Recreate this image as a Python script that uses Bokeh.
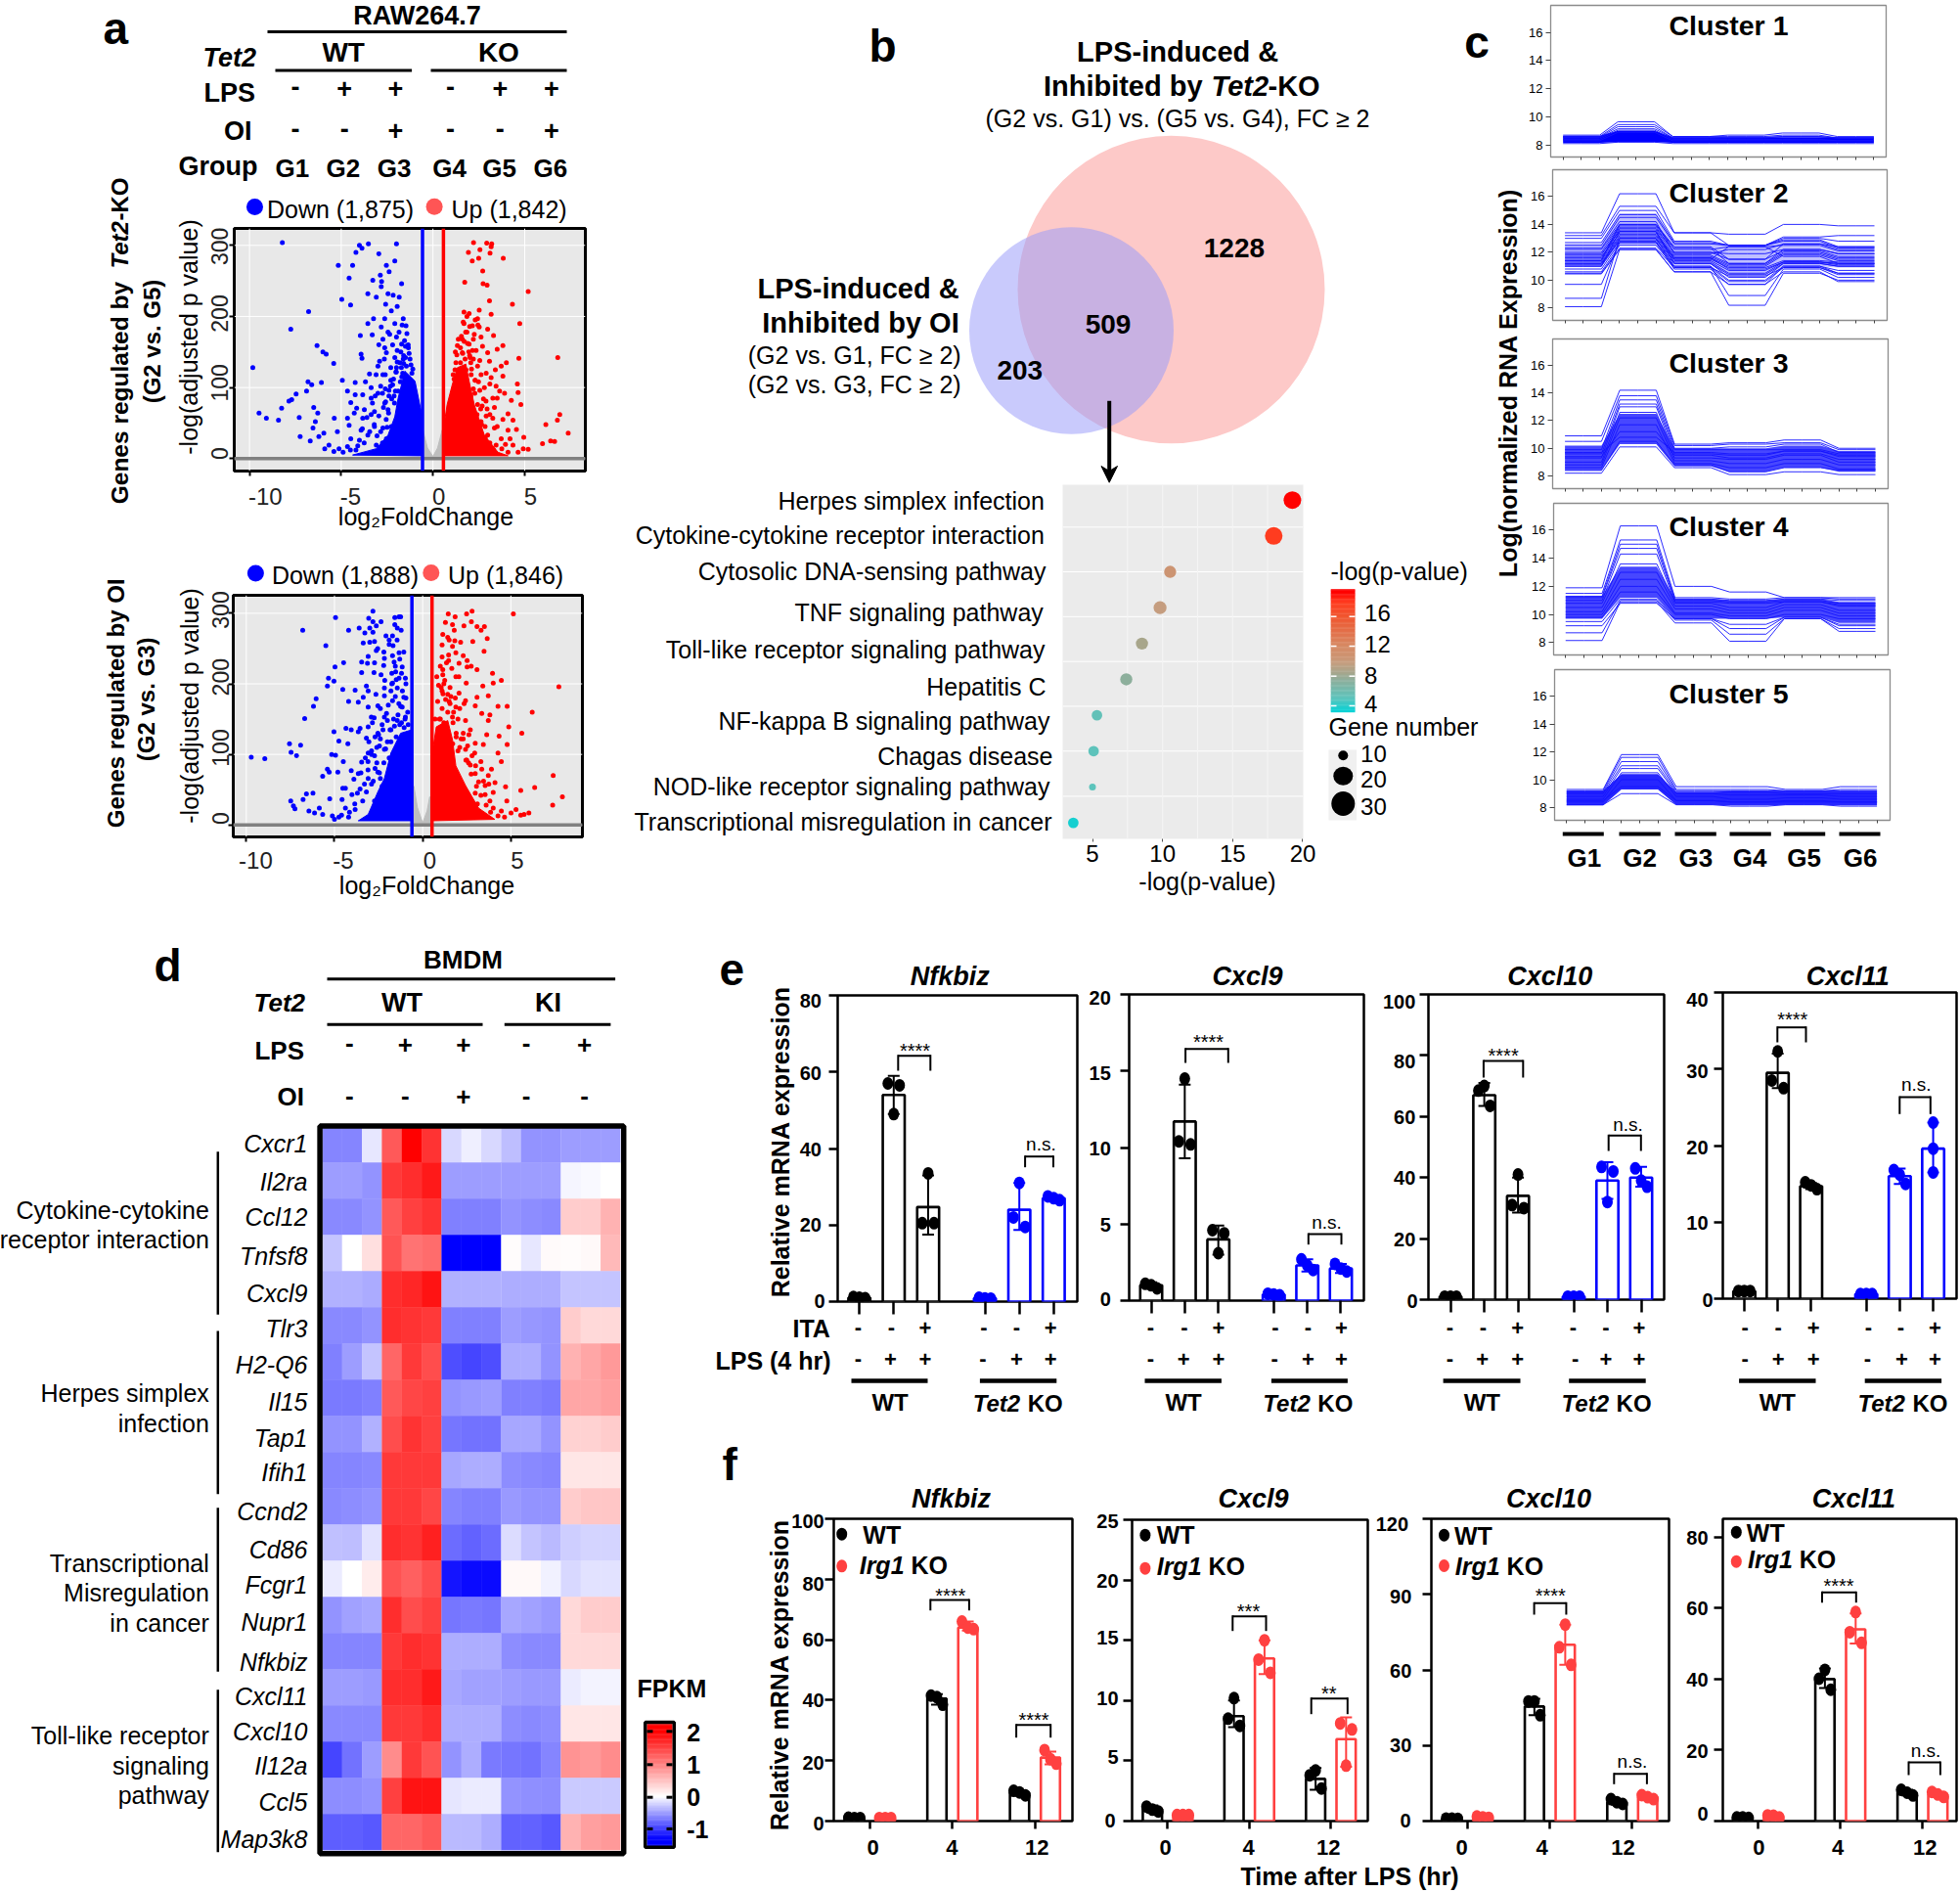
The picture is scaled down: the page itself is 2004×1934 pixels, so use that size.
import numpy as np
from bokeh.plotting import figure
from bokeh.models import Range1d, FixedTicker, Span, ColumnDataSource
from bokeh.core.properties import value
from bokeh.embed import file_html
from bokeh.resources import INLINE

FONT = "Liberation Sans"
BLUE = "#0000FF"; RED = "#FF0000"; LRED = "#FF4040"

# ---------- panel a data: (log2FC, -log10 padj)
v1_down_x = [-8.21,-4.01,-3.87,-3.52,-1.99,-4.2,-5.16,-4.38,-2.95,-4.57,-2.54,-2.08,-2.39,-2.87,-3.28,-2.8,-1.71,-3.55,-3.09,-2.82,-2.45,-2.17,-1.84,-4.97,-4.49,-2.58,-1.95,-2.27,-6.78,-7.75,-3.24,-3.55,-2.63,-2.82,-2.08,-1.62,-1.47,-3.96,-3.31,-2.73,-2.36,-1.99,-1.71,-1.34,-2.63,-6.32,-6.0,-5.82,-5.41,-3.87,-3.92,-2.91,-2.54,-2.08,-1.62,-9.82,-3.0,-2.73,-1.99,-4.94,-3.46,-6.81,-6.61,-6.08,-6.89,-7.46,-7.7,-7.85,-8.25,-9.48,-9.08,-8.42,-7.29,-6.5,-6.28,-6.41,-6.54,-5.38,-4.66,-4.24,-3.68,-3.37,-3.0,-4.24,-4.48,-3.83,-3.37,-2.63,-4.16,-3.74,-3.19,-2.45,-4.66,-4.57,-4.29,-3.83,-3.37,-3.92,-3.55,-3.19,-2.73,-2.27,-7.24,-6.69,-6.22,-5.95,-5.21,-4.48,-4.01,-5.67,-5.12,-4.66,-4.2,-3.09,-2.54,-2.3,-2.6,-2.0,-1.8,-2.2,-1.6,-2.4,-1.9,-2.1,-1.7,
 -2.85,-2.6,-2.4,-2.15,-1.95,-1.75,-1.55,-1.42,-1.3,-1.2,-1.65,-2.25,-2.7,-2.95,-3.2,-3.45,-2.55,-2.05,-1.85,-1.68,-2.2,-2.45,-2.65,-2.95,-3.1,-3.3,-3.6,-3.85,-3.05,-2.75,-3.75,-4.1,-1.5,-1.35,-1.1,-1.95,-2.3,-2.75,-3.15,-2.5,-2.85,-4.5,-4.9,-5.4,-5.9,-1.45,-1.6,-1.78,-2.02,-2.32,-2.58,-1.25,-1.15,-1.5,-1.72,-2.12,-2.42]
v1_down_y = [304,300,296,302,302,290,272,272,288,254,272,278,263,258,251,249,246,232,227,242,232,230,227,224,216,217,214,208,207,182,197,190,197,185,190,197,187,173,174,168,175,171,161,156,156,159,150,147,134,141,147,137,149,142,140,128,130,118,128,110,119,108,104,107,95,91,83,81,71,64,57,54,58,72,64,52,43,57,95,107,108,100,92,90,79,90,85,78,71,69,66,69,57,47,64,57,62,40,33,45,43,45,31,25,31,36,38,28,26,19,14,17,12,19,28,110,98,122,135,104,145,88,95,78,115,
 102,118,96,112,136,150,166,176,148,132,120,84,72,60,48,38,55,95,178,188,160,178,140,160,118,78,58,42,32,22,22,18,142,160,126,152,128,92,88,44,38,12,9,10,14,130,134,108,122,102,80,140,120,158,128,88,64]
v1_up_x = [2.21,2.93,3.2,3.17,2.56,1.93,3.11,3.83,2.49,2.14,2.71,1.73,2.73,2.95,5.19,3.08,4.33,2.52,1.69,3.17,1.97,2.43,4.73,1.69,2.15,2.52,2.98,3.3,2.25,2.62,1.6,1.33,1.97,3.81,3.5,2.98,2.15,1.6,4.68,6.8,3.08,4.0,3.72,2.43,2.06,3.17,3.81,2.62,4.6,3.44,4.64,2.8,3.26,3.63,4.27,4.79,2.89,4.09,6.91,3.81,3.26,4.36,6.78,6.15,3.35,4.09,4.55,7.37,4.95,2.84,5.97,6.41,6.63,5.19,4.92,4.36,3.72,2.98,3.44,4.09,4.64,2.62,2.06,2.43,1.5,1.8,2.0,2.3,1.45,1.7,2.2,2.6,2.9,1.2,1.4,
 1.15,1.3,1.5,1.7,1.85,2.0,2.2,2.35,2.55,1.4,2.1,2.3,2.55,2.75,2.95,3.1,3.35,3.5,2.4,2.65,2.85,3.1,3.3,3.75,3.95,4.2,1.55,1.75,1.95,1.25,1.1,2.45,2.7,2.9,3.1,3.4,2.2,1.65,1.85,2.3,3.9,3.5,1.62,1.88,2.08,2.28,2.48,2.68,1.38,1.22,1.78,2.02]
v1_up_y = [304,303,302,298,294,290,289,282,282,278,264,248,246,244,235,222,217,209,206,203,204,197,190,190,187,185,182,173,175,171,168,159,161,159,154,149,152,149,141,142,137,135,130,130,135,114,116,118,105,102,93,100,85,95,82,76,81,63,62,55,57,54,54,48,43,40,41,36,30,45,21,25,24,13,14,19,28,33,19,9,9,52,88,76,135,125,145,110,118,100,98,70,60,125,110,
 112,146,156,165,178,186,168,152,138,120,126,110,96,84,70,62,72,45,62,48,30,22,12,14,20,28,172,140,150,135,118,188,158,120,105,125,140,192,200,195,92,85,148,162,118,92,108,74,168,150,178,142]
v1_dense_down_x = [-0.57,-0.98,-1.53,-1.9,-2.08,-2.45,-3.09,-4.38,-0.57]
v1_dense_down_y = [57,109,123,85,59,33,14,5,4]
v1_dense_up_x = [0.55,0.77,1.05,1.33,1.79,1.97,2.25,2.8,3.54,4.09,0.55]
v1_dense_up_y = [38,76,104,128,133,109,76,33,9,4,4]
v1_funnel_x = [-0.55,-0.3,0,0.25,0.5,0.5,-0.55]
v1_funnel_y = [40,15,3,15,40,2,2]

v2_down_x = [-2.82,-4.94,-3.06,-2.82,-2.36,-1.58,-1.34,-1.25,-6.8,-4.2,-3.6,-3.0,-2.63,-1.58,-1.44,-1.22,-3.28,-2.82,-2.08,-1.71,-5.49,-3.37,-3.0,-2.73,-1.9,-1.68,-2.63,-3.09,-2.17,-1.71,-1.34,-1.07,-4.48,-4.97,-3.46,-3.13,-2.73,-2.21,-1.62,-1.16,-3.46,-2.76,-2.36,-1.53,-5.34,-5.03,-5.4,-4.53,-3.83,-3.19,-3.09,-2.17,-1.71,-1.34,-0.98,-1.8,-1.44,-6.04,-4.2,-3.65,-6.19,-3.37,-3.09,-2.54,-2.17,-1.71,-1.07,-1.16,-6.69,-2.91,-2.17,-1.44,-0.98,-3.55,-5.03,-4.35,-4.05,-3.65,-3.09,-2.54,-1.8,-4.75,-3.19,-4.24,-7.55,-6.92,-7.46,-7.15,-9.72,-8.95,-5.16,-4.94,-3.46,-3.09,-2.73,-2.17,-5.4,-5.67,-5.3,-4.81,-4.05,-3.65,-3.09,-2.54,-6.22,-6.59,-6.78,-7.48,-7.33,-7.24,-5.27,-4.53,-4.38,-3.55,-4.01,-3.19,-4.57,-6.45,-6.13,-5.86,-5.67,-5.12,-4.38,-3.83,-2.73,-4.75,-4.2,-2.4,-2.0,-2.6,-1.5,-2.9,-1.9,-2.2,-1.3,-3.1,-2.4,-2.7,-1.7,-2.1,-2.9,-2.3,
 -2.9,-2.7,-2.45,-2.25,-2.0,-1.8,-1.6,-1.4,-1.2,-1.05,-0.85,-0.95,-1.15,-1.35,-1.55,-1.75,-1.95,-2.15,-2.4,-2.65,-2.85,-3.05,-3.25,-3.5,-3.3,-3.1,-2.8,-2.6,-3.4,-3.7,-3.85,-4.15,-4.6,-5.0,-3.9,-2.45,-1.75,-1.55,-1.3,-2.2,-2.55,-1.9,-1.45,-0.95,-1.2,-4.5,-1.65,-1.85,-2.05,-2.3,-1.25,-1.0,-0.82,-1.5,-2.5,-2.75]
v2_down_y = [303,294,293,288,288,294,295,295,276,276,279,279,282,284,279,276,272,273,268,268,254,258,259,260,256,254,247,239,236,240,244,245,230,224,231,229,230,226,231,224,216,216,213,217,208,204,197,192,191,197,190,194,201,208,208,190,194,179,175,174,168,181,167,169,183,176,181,167,151,153,153,148,153,137,132,137,135,132,139,130,135,119,123,115,115,113,103,98,96,94,100,99,89,102,98,107,79,69,75,75,77,73,66,75,45,44,36,34,27,23,37,52,52,51,43,47,36,20,17,24,15,13,24,22,34,11,11,122,118,110,125,105,95,88,142,90,66,80,100,108,58,55,
 100,125,112,135,148,118,140,156,145,138,160,180,190,172,182,200,170,205,165,185,145,118,95,74,58,78,62,88,34,45,30,18,14,8,65,74,215,225,235,245,250,262,262,200,215,90,150,135,158,142,168,150,142,206,128,152]
v2_up_x = [2.8,1.45,2.49,5.14,2.76,1.29,1.84,1.69,2.34,3.08,3.5,3.31,1.79,1.14,1.42,1.82,2.84,3.66,1.69,2.15,1.47,1.88,3.48,1.1,1.47,2.52,2.06,1.14,2.52,3.08,1.14,1.88,3.96,4.46,4.0,2.47,7.72,3.41,3.08,3.72,1.42,2.06,2.43,2.98,4.27,4.79,6.21,3.35,3.81,1.88,1.69,2.43,3.72,4.88,5.62,4.33,3.63,2.62,3.44,4.79,2.98,2.43,4.27,4.46,3.35,3.9,3.72,7.4,2.98,3.17,3.54,4.7,6.35,5.56,4.0,3.54,2.98,7.92,4.77,7.37,2.62,3.81,4.0,4.46,5.01,5.29,5.56,6.02,4.27,3.35,2.8,2.25,4.64,5.75,1.2,1.5,1.9,2.3,2.1,1.0,1.3,2.7,1.7,2.5,1.1,2.0,
 0.95,1.1,1.3,1.55,1.75,2.0,2.3,2.55,2.8,3.0,1.9,2.1,2.45,2.75,3.05,3.3,3.6,3.85,1.05,1.25,1.55,1.85,0.85,1.0,1.35,1.65,2.05,2.35,2.7,3.3,4.1,3.75,3.45,3.1,2.6,1.2,0.7,0.8,1.1,1.5,2.3,2.75,1.42,1.72,2.18,0.9,1.15,1.6,2.6,2.95]
v2_up_y = [303,299,299,299,288,287,295,284,282,281,281,276,276,270,266,261,260,264,253,259,241,244,246,238,233,233,229,220,224,220,213,210,215,205,201,201,196,197,181,183,185,187,176,169,168,168,160,158,156,167,153,148,148,139,130,126,128,128,114,114,116,107,102,90,79,79,70,70,73,61,56,54,53,49,46,43,45,40,34,28,38,34,24,20,17,22,14,17,13,15,24,47,11,15,200,175,130,122,165,150,142,85,115,92,190,105,
 150,165,178,172,160,150,130,112,98,84,125,110,92,72,55,42,28,18,195,205,195,180,175,225,230,222,210,172,135,90,60,58,62,30,30,145,150,210,255,262,240,225,160,145,122,198,186,182,88,102]
v2_dense_down_x = [-0.61,-1.25,-1.8,-2.17,-2.54,-3.09,-3.65,-0.61]
v2_dense_down_y = [135,130,102,66,47,15,6,6]
v2_dense_up_x = [0.53,0.77,1.42,1.69,1.88,2.43,3.17,4.09,0.53]
v2_dense_up_y = [100,139,148,121,84,56,24,8,6]
v2_funnel_x = [-0.5,-0.3,0,0.25,0.4,0.4,-0.5]
v2_funnel_y = [55,25,3,20,40,2,2]

# ---------- panel b bubble data
pathways = ["Herpes simplex infection","Cytokine-cytokine receptor interaction","Cytosolic DNA-sensing pathway","TNF signaling pathway","Toll-like receptor signaling pathway","Hepatitis C","NF-kappa B signaling pathway","Chagas disease","NOD-like receptor signaling pathway","Transcriptional misregulation in cancer"]
path_logp = [19.26,17.93,10.54,9.82,8.53,7.41,5.32,5.08,5.0,3.63]
path_genes = [20,20,13,14,13,13,11,11,7,11]

# ---------- panel c: six group levels per gene line
c_groups = ["G1","G2","G3","G4","G5","G6"]
c1_lines = [[8.7,9.65,8.6,8.7,8.85,8.6],[8.6,9.45,8.6,8.6,8.7,8.5],[8.55,9.3,8.5,8.55,8.6,8.5],[8.5,9.15,8.5,8.5,8.6,8.5],[8.4,9.05,8.4,8.4,8.4,8.3],[8.3,8.9,8.3,8.3,8.3,8.3],[8.1,8.2,8.1,8.1,8.1,8.1]]
c1_upper = [8.65,9.0,8.55,8.55,8.55,8.55]
c1_lower = [8.15,8.2,8.15,8.15,8.15,8.15]
c2_lines = [[8.1,12.2,10.6,8.2,10.5,10],[8.7,13,11,8.9,10.8,10.2],[9.7,12.7,10.8,9.7,11,10.5],[13.4,16.2,13.4,13.3,14.0,13.9],[13.2,15.3,13.4,12.5,13.1,13.2],[13,15,12.8,12.5,13,12.8],[12.7,14.7,12.7,12.5,12.9,12.4],[12.5,14.5,12.6,12.5,12.8,12.3],[12.2,14,12.4,11.5,12.6,12.2],[12,13.9,12.2,12.4,12.5,12.1],[11.8,13.8,12,11.9,12.2,11.9],[11.6,13.7,12,11.5,12.1,11.7],[11.5,13.6,11.8,11.2,12,11.6],[11.4,13.4,11.7,11.1,11.9,11.5],[11.3,13.2,11.6,11,11.8,11.4],[11.2,13.1,11.5,10.9,11.4,11.3],[11.1,13,11.4,10.7,11.3,11.2],[11.0,12.9,11.3,10.5,11.3,11.1],[10.8,12.7,11.2,10.2,11.2,11],[10.6,12.5,11,10,11,10.7],[10.5,12.3,10.9,9.9,10.9,10.5],[10.45,12.2,10.6,9.7,10.6,9.9],[11.9,13.5,11.5,12.4,11.7,11.2],[11.4,14,12.3,11.2,12.2,11.9],[11.7,13.3,11.6,10.8,11.3,11.2],[12.3,14.2,11.9,12.2,12.6,12.4],[11,13.5,11.2,10.4,11.2,11],[11.2,12.8,10.9,10.3,10.9,10.4]]
c2_upper = [12.6,14.8,12.7,12.5,12.9,12.4]
c2_lower = [11.0,12.5,11.1,10.3,11.0,10.9]
c3_lines = [[10.9,14.2,10.3,10.4,10.6,10.0],[10.5,13.8,10.2,10.3,10.4,9.9],[8.2,10.1,8.6,8.1,8.3,8.1],[9.9,13.5,10,10.1,10.3,9.7],[9.6,13.2,9.9,9.9,9.9,9.6],[9.3,13,9.6,9.5,9.8,9.5],[9,12.6,9.3,9.2,9.5,9],[8.8,12.2,9.1,8.9,9.2,8.8],[8.6,11.7,8.9,8.6,8.9,8.5],[9.4,11.2,9.5,9.3,9.6,9.2],[9.7,10.8,9.7,9.6,9.8,9.4],[8.4,10.5,8.8,8.3,8.6,8.4]]
c3_upper = [10.2,12.5,10,10,10.2,9.8]
c3_lower = [8.4,10.3,8.7,8.3,8.6,8.3]
c4_lines = [[8.15,10.9,9.4,8.1,9.7,8.8],[8.7,11,9.6,8.6,9.7,9],[9.2,10.8,9.7,9,9.8,9.2],[9.5,11.1,9.7,9.3,9.8,9.3],[11.9,16.3,12,11.6,11.2,11.2],[11.5,15.3,11.2,11.1,11.2,11.1],[11.3,15,11.1,11,11.1,11],[11.2,14.7,11,10.9,11,10.8],[11,14.3,10.9,10.8,10.9,10.7],[10.8,13.6,10.8,10.5,10.9,10.6],[10.5,13,10.6,10.3,10.7,10.3],[10.2,12.5,10.4,10.1,10.5,10.1],[10,12,10.1,9.9,10.3,9.9],[9.8,11.6,10,9.7,10,9.7]]
c4_upper = [11.3,13.4,11.1,11,11.1,10.9]
c4_lower = [9.7,11.2,9.7,9.7,9.8,9.4]
c5_lines = [[9.3,11.8,9.5,9.5,9.3,9.5],[9.2,11.6,9.3,9.3,9.2,9.3],[9.1,11.3,9.2,9.2,9.2,9.2],[9,11,9.1,9.1,9,9],[8.8,10.8,9,8.9,8.9,8.8],[8.6,10.5,8.8,8.6,8.7,8.6],[8.4,10,8.5,8.4,8.4,8.4],[8.2,9,8.2,8.1,8.2,8.1],[8.5,9.5,8.5,8.4,8.5,8.4]]
c5_upper = [9.2,10.4,9.1,9.2,9.2,9.2]
c5_lower = [8.15,9.3,8.2,8.15,8.2,8.15]

# ---------- panel d heat map
heat_genes = ["Cxcr1","Il2ra","Ccl12","Tnfsf8","Cxcl9","Tlr3","H2-Q6","Il15","Tap1","Ifih1","Ccnd2","Cd86","Fcgr1","Nupr1","Nfkbiz","Cxcl11","Cxcl10","Il12a","Ccl5","Map3k8"]
heat_values = [
[-.62,-.62,-.12,1.3,2.0,1.6,-.2,-.08,-.2,-.33,-.55,-.55,-.5,-.5,-.5],
[-.5,-.5,-.55,1.55,1.65,1.8,-.5,-.5,-.5,-.5,-.5,-.5,-.05,-.03,0],
[-.6,-.6,-.55,1.3,1.5,1.6,-.65,-.65,-.65,-.55,-.58,-.6,.4,.4,.6],
[-.3,0,.25,1.35,1.1,1.15,-1.3,-1.3,-1.3,.02,-.12,.04,.02,.05,.55],
[-.4,-.4,-.43,1.65,1.7,1.85,-.4,-.4,-.4,-.42,-.42,-.42,-.3,-.3,-.3],
[-.6,-.6,-.55,1.65,1.6,1.55,-.65,-.65,-.65,-.5,-.53,-.55,.4,.3,.3],
[-.65,-.5,-.3,1.2,1.55,1.4,-.9,-.95,-.9,-.42,-.42,-.55,.6,.7,.8],
[-.68,-.68,-.65,1.3,1.45,1.5,-.55,-.52,-.5,-.65,-.65,-.68,.7,.7,.75],
[-.55,-.55,-.4,1.4,1.6,1.5,-.7,-.72,-.72,-.45,-.45,-.55,.35,.35,.4],
[-.62,-.62,-.6,1.55,1.55,1.55,-.45,-.42,-.42,-.58,-.6,-.62,.2,.2,.2],
[-.6,-.58,-.55,1.55,1.55,1.45,-.62,-.65,-.65,-.52,-.55,-.55,.4,.45,.45],
[-.32,-.33,-.15,1.65,1.6,1.75,-.75,-.8,-.75,-.18,-.3,-.35,-.25,-.22,-.22],
[-.1,0,.15,1.35,1.25,1.4,-1.2,-1.25,-1.25,.05,.05,-.07,-.2,-.15,-.15],
[-.55,-.48,-.45,1.65,1.4,1.5,-.7,-.68,-.7,-.45,-.48,-.52,.3,.4,.4],
[-.62,-.62,-.62,1.55,1.65,1.6,-.42,-.42,-.42,-.58,-.6,-.6,.3,.3,.3],
[-.5,-.5,-.52,1.65,1.65,1.8,-.45,-.48,-.48,-.5,-.52,-.52,-.1,-.06,-.06],
[-.6,-.6,-.6,1.55,1.55,1.65,-.42,-.42,-.42,-.58,-.6,-.58,.2,.2,.2],
[-.95,-.72,-.5,.9,1.55,1.35,-.55,-.42,-.68,-.7,-.72,-.62,.85,.8,.9],
[-.58,-.58,-.55,1.5,1.85,1.85,-.13,-.1,-.1,-.55,-.57,-.58,-.27,-.27,-.27],
[-.82,-.82,-.85,1.2,1.2,1.3,-.35,-.35,-.42,-.8,-.8,-.85,.6,.75,.8]]

# ---------- panel e bars (three replicates: left, centre, right)
e_nfkbiz_mean = [1,54,24.7,0.9,24,27]
e_nfkbiz_err = [[.7,1.3],[49,59],[17.5,33],[.6,1.1],[18.7,31],[26.4,27.6]]
e_nfkbiz_pts = [[1.2,1.0,0.9],[57,49,56.5],[20.5,33.5,20.5],[1.0,0.8,0.8],[22,31,19.5],[27.5,27,26.5]]
e_cxcl9_mean = [1,11.7,4,.4,2.3,2.1]
e_cxcl9_err = [[.8,1.2],[9.3,14.1],[3,4.9],[.3,.5],[1.9,2.7],[1.8,2.4]]
e_cxcl9_pts = [[1.1,1,.8],[10.4,14.5,10.2],[4.6,3.1,4.4],[.45,.4,.35],[2.7,2.3,2],[2.4,2.1,1.9]]
e_cxcl10_mean = [1,67,34,1,39,40]
e_cxcl10_err = [[.7,1.3],[63.5,71],[28.5,40],[.7,1.3],[33,45],[37,43.5]]
e_cxcl10_pts = [[1,1,1],[68.5,70,63.5],[31,41,30],[1,1,1],[43.5,32,42],[43,39,37]]
e_cxcl11_mean = [1,29.5,14.7,.6,16,19.6]
e_cxcl11_err = [[.8,1.2],[27.5,32],[14.3,15.1],[.5,.7],[15,17],[16.5,23]]
e_cxcl11_pts = [[1,1,1],[28.5,32.3,27.5],[15.2,14.8,14.3],[.6,.6,.6],[16.8,16.2,15],[23,19.6,16.5]]
# ---------- panel f bars: WT 0, KO 0, WT 4, KO 4, WT 12, KO 12
f_nfkbiz_mean = [1,1,40.5,64,9.5,21]
f_nfkbiz_err = [[.8,1.2],[.8,1.2],[38.5,42],[63,66],[8.6,10.2],[18.8,23]]
f_nfkbiz_pts = [[1.1,1,1],[1,1,1],[41.5,41,38.5],[66,64,63.5],[10,9.5,8.5],[23.5,20.5,19]]
f_cxcl9_mean = [1,.5,8.7,13.5,3.5,6.8]
f_cxcl9_err = [[.7,1.3],[.4,.6],[7.8,10],[12.2,15],[2.6,4.4],[4.5,8.6]]
f_cxcl9_pts = [[1.2,.95,.8],[.5,.5,.5],[8.5,10.2,7.9],[13.4,15,12.3],[3.8,4.2,2.7],[8.1,4.6,7.6]]
f_cxcl10_mean = [1,1.5,45.5,70,7.5,9.5]
f_cxcl10_err = [[.7,1.3],[1.1,1.9],[42,48.5],[62,78],[6.5,8.7],[8.5,10.5]]
f_cxcl10_pts = [[1,1,.9],[1.8,1.5,1.3],[47.5,47.5,42],[69,78,62],[8.7,7.5,6.8],[10.3,9.5,8.7]]
f_cxcl11_mean = [1,1.5,40,54,8,7.5]
f_cxcl11_err = [[.7,1.3],[1,2],[37.5,43],[50,58.5],[7.2,8.8],[6.8,8.2]]
f_cxcl11_pts = [[1,1,.9],[1.6,1.5,1],[40.1,42.6,37],[53.2,58.9,50.2],[8.8,8,7.2],[8.2,7.5,6.8]]
E_SLOTS = [0,1,2,3.65,4.65,5.65]
F_SLOTS = [-.187,.187,.813,1.187,1.813,2.187]
ita_signs = ["-","-","+","-","-","+"]
lps_signs = ["-","+","+","-","+","+"]


# ---------- helpers
def rng(a, pa, va, pb, vb):
    return va + (a - pa) * (vb - va) / (pb - pa)


def panel(x0, y0, x1, y1, xr, yr, L=40, T=6, R=6, B=30, bg=None, outline="black", ow=2.5, **kw):
    x0, y0, x1, y1 = round(x0), round(y0), round(x1), round(y1)
    p = figure(width=x1 - x0 + L + R, height=y1 - y0 + T + B, x_range=Range1d(*xr), y_range=Range1d(*yr),
               output_backend="svg", toolbar_location=None, min_border_left=L, min_border_right=R,
               min_border_top=T, min_border_bottom=B, border_fill_color=None, background_fill_color=bg,
               outline_line_color=outline, outline_line_width=ow,
               styles={"position": "absolute", "left": f"{x0 - L}px", "top": f"{y0 - T}px"}, **kw)
    p.grid.visible = False
    return p


def ticks(ax, vals, out, w=2, color="black", labels=False, fs="1px"):
    ax.ticker = FixedTicker(ticks=list(vals))
    ax.major_tick_out = out
    ax.major_tick_in = 0
    ax.minor_tick_line_color = None
    ax.major_tick_line_width = w
    ax.major_tick_line_color = color
    ax.axis_line_color = None
    ax.major_label_text_font = FONT
    ax.major_label_text_font_size = fs
    if not labels:
        ax.major_label_overrides = {v: "" for v in vals}
        ax.major_label_standoff = 0


figs = []

# ---------- volcano panels
def volcano(rect, xcal, ycal, vb, vr, dx, dy, ux, uy, ddx, ddy, dux, duy, fx, fy):
    x0, y0, x1, y1 = rect
    xr = (rng(x0, *xcal), rng(x1, *xcal)); yr = (rng(y1, *ycal), rng(y0, *ycal))
    p = panel(x0, y0, x1, y1, xr, yr, L=14, T=4, R=4, B=14, bg="#E8E8E8", ow=3)
    ticks(p.xaxis[0], [-10, -5, 0, 5], 5, 2)
    ticks(p.yaxis[0], [0, 100, 200, 300], 5, 2)
    for v in [-10, -5, 0, 5]:
        p.add_layout(Span(location=v, dimension="height", line_color="white", line_width=1, level="underlay"))
    for v in [0, 100, 200, 300]:
        p.add_layout(Span(location=v, dimension="width", line_color="white", line_width=1, level="underlay"))
    p.patch(fx, fy, color="#BEBEBE")
    p.patch(ddx, ddy, color=BLUE)
    p.patch(dux, duy, color=RED)
    p.scatter(dx, dy, size=5, color=BLUE, line_color=None)
    p.scatter(ux, uy, size=5, color=RED, line_color=None)
    p.add_layout(Span(location=0, dimension="width", line_color="#808080", line_width=3.5))
    p.add_layout(Span(location=vb, dimension="height", line_color=BLUE, line_width=3.5))
    p.add_layout(Span(location=vr, dimension="height", line_color=RED, line_width=3.5))
    figs.append(p)

volcano((239, 233, 598, 481), (254.6, -10, 536, 5), (468.3, 0, 250.3, 300), -0.57, 0.57,
        v1_down_x, v1_down_y, v1_up_x, v1_up_y, v1_dense_down_x, v1_dense_down_y, v1_dense_up_x, v1_dense_up_y, v1_funnel_x, v1_funnel_y)
volcano((238.3, 608, 595, 855.2), (251.6, -10, 521.9, 5), (843, 0, 626.4, 300), -0.61, 0.53,
        v2_down_x, v2_down_y, v2_up_x, v2_up_y, v2_dense_down_x, v2_dense_down_y, v2_dense_up_x, v2_dense_up_y, v2_funnel_x, v2_funnel_y)

# ---------- bubble panel
def lerp_palette(vals, stops):
    xs = [s[0] for s in stops]
    rgb = np.array([[int(s[1][i:i + 2], 16) for i in (1, 3, 5)] for s in stops], float)
    out = np.stack([np.interp(vals, xs, rgb[:, k]) for k in range(3)], 1).round().astype(int)
    return ["#%02X%02X%02X" % tuple(c) for c in out]

P_STOPS = [(3.2, "#00D2D6"), (5, "#5CC4BC"), (7.5, "#8FAE9B"), (8.6, "#AAA58A"), (9.8, "#C59D7F"), (10.5, "#CC9472"), (12, "#D68A64"), (16, "#F0562F"), (17.9, "#FF3D20"), (19.3, "#FF0000"), (19.7, "#FF0000")]
bx = (1116.8, 5, 1331, 20); by = (510.7, 0, 840.3, 9)
p = panel(1086.4, 495, 1331.5, 856.7, (rng(1086.4, *bx), rng(1331.5, *bx)), (rng(856.7, *by), rng(495, *by)),
          L=6, T=4, R=34, B=38, bg="#EBEBEB", outline=None, y_axis_location=None)
ticks(p.xaxis[0], [5, 10, 15, 20], 3, 1, "#555555", labels=True, fs="24px")
p.xaxis[0].major_label_text_color = "black"
p.xaxis[0].major_label_standoff = 3
for v in [0.754, 2.0, 3.25, 4.5, 5.75, 7.0, 8.26]:
    p.add_layout(Span(location=v, dimension="width", line_color="white", line_width=1, level="underlay"))
for v in [7.5, 10, 12.5, 15, 17.5]:
    p.add_layout(Span(location=v, dimension="height", line_color="#F5F5F5", line_width=1, level="underlay"))
p.scatter(x=path_logp, y=list(range(10)), size=np.interp(path_genes, [7, 10, 20, 30], [7, 10, 18, 25]).tolist(),
          color=[lerp_palette([v], P_STOPS)[0] for v in path_logp], line_color=None)
figs.append(p)

# ---------- cluster panels
def cluster(rect, xp0, xp17, y16, y8, lines, upper=None, lower=None, band_alpha=0.72):
    x0, y0, x1, y1 = rect
    xc = (xp0, 0, xp17, 17); yc = (y16, 16, y8, 8)
    p = panel(x0, y0, x1, y1, (rng(x0, *xc), rng(x1, *xc)), (rng(y1, *yc), rng(y0, *yc)), L=44, T=3, R=3, B=9,
              outline="#8C8C8C", ow=1.3)
    ticks(p.xaxis[0], list(range(18)), 3, 1, "#444444")
    ticks(p.yaxis[0], [8, 10, 12, 14, 16], 5, 1, "#444444", labels=True, fs="13px")
    p.yaxis[0].major_label_standoff = 3
    p.yaxis[0].major_label_text_color = "black"
    xs = list(range(18))
    if upper is not None:
        p.varea(xs, np.repeat(lower, 3).tolist(), np.repeat(upper, 3).tolist(), fill_color=BLUE, fill_alpha=band_alpha)
    for row in lines:
        p.line(xs, np.repeat(row, 3).tolist(), line_color="#1414FF", line_width=0.9, line_alpha=1.0)
    figs.append(p)

cluster((1585, 5, 1928.3, 160), 1597.7, 1915.7, 32.7, 147.7, c1_lines, c1_upper, c1_lower, 1.0)
cluster((1586.7, 173.3, 1929, 327.3), 1599.3, 1916, 200.7, 314.7, c2_lines, c2_upper, c2_lower, 0.25)
cluster((1586.7, 345.7, 1930, 499), 1599.3, 1917, 372.7, 486, c3_lines, c3_upper, c3_lower)
cluster((1587.7, 514.3, 1930.3, 669.3), 1600, 1917.3, 541.7, 656.7, c4_lines, c4_upper, c4_lower)
cluster((1588.7, 684.3, 1931.7, 838.3), 1601, 1918.3, 711.3, 825.3, c5_lines, c5_upper, c5_lower, 0.85)

# ---------- heat map
def heat_color(v):
    if v < 0:
        s = min(-v / 1.3, 1); c = int(round(255 * (1 - s))); return "#%02X%02XFF" % (c, c)
    s = min(v / 2, 1); c = int(round(255 * (1 - s))); return "#FF%02X%02X" % (c, c)

p = panel(329, 1151, 634, 1891, (-.5, 14.5), (19.5, -.5), L=2, T=2, R=2, B=2, outline=None, x_axis_location=None, y_axis_location=None)
hx, hy, hv = [], [], []
for r, row in enumerate(heat_values):
    for c, v in enumerate(row):
        hx.append(c); hy.append(r); hv.append(v)
p.rect(x=hx, y=hy, width=1.01, height=1.01, fill_color=[heat_color(v) for v in hv], line_color=None)
figs.append(p)

# ---------- bars
def bars(x0, y0, x1, y1, xcal, ycal, slots, xt, yt, mean, err, pts, cols, bw, jit, capw, stack=()):
    xc = xcal; yc = ycal
    xr = (rng(x0, *xc), rng(x1, *xc)); yr = (0, rng(y0, *yc))
    p = panel(x0, y0, x1, y1, xr, yr, L=20, T=4, R=4, B=20, ow=2.5)
    scale = (xc[3] - xc[1]) / (xc[2] - xc[0])
    ticks(p.xaxis[0], xt, 13 if slots is E_SLOTS else 8, 2.5)
    ticks(p.yaxis[0], yt, 9, 2.5)
    p.vbar(x=slots, top=mean, width=bw * scale, bottom=0, fill_color="white", line_color=cols, line_width=2.6)
    xs, ys, cs, sx0, sy0, sx1, sy1, sc = [], [], [], [], [], [], [], []
    for i, sl in enumerate(slots):
        for k, v in enumerate(pts[i]):
            xs.append(sl + (0 if i in stack else (k - 1) * jit * scale)); ys.append(v); cs.append(cols[i])
        lo, hi = err[i]
        sx0 += [sl, sl - capw * scale, sl - capw * scale]; sx1 += [sl, sl + capw * scale, sl + capw * scale]
        sy0 += [lo, lo, hi]; sy1 += [hi, lo, hi]; sc += [cols[i]] * 3
    p.segment(sx0, sy0, sx1, sy1, line_color=sc, line_width=2)
    p.ellipse(x=xs, y=ys, width=11, height=13, width_units="screen", height_units="screen", fill_color=cs, line_color=None)
    figs.append(p)

EC = ["black"] * 3 + [BLUE] * 3
FC = ["black", LRED] * 3
ecfg = [
    (855.7, 1016.7, 1100.6, 1330, 877.8, 1076.5, (1330, 0, 1016.7, 80), [0, 20, 40, 60, 80], e_nfkbiz_mean, e_nfkbiz_err, e_nfkbiz_pts, ()),
    (1154.5, 1015.7, 1394.3, 1328.7, 1177, 1370.8, (1328.7, 0, 1015.7, 20), [0, 5, 10, 15, 20], e_cxcl9_mean, e_cxcl9_err, e_cxcl9_pts, ()),
    (1459.8, 1015.7, 1700.8, 1327.7, 1482.4, 1677.3, (1327.7, 0, 1015.7, 100), [0, 20, 40, 60, 80, 100], e_cxcl10_mean, e_cxcl10_err, e_cxcl10_pts, ()),
    (1761.4, 1014.3, 2000, 1327, 1783.3, 1976.1, (1327, 0, 1014.3, 40), [0, 10, 20, 30, 40], e_cxcl11_mean, e_cxcl11_err, e_cxcl11_pts, (5,)),
]
for x0, y0, x1, y1, a, b, yc, yt, m, er, pt, st in ecfg:
    bars(x0, y0, x1, y1, (a, 0, b, 5.65), yc, E_SLOTS, E_SLOTS, yt, m, er, pt, EC, 22.4, 6, 6, st)
fcfg = [
    (852.4, 1551.7, 1096.5, 1861, 889.2, 1058.2, (1861, 0, 1551.7, 100), [0, 20, 40, 60, 80, 100], f_nfkbiz_mean, f_nfkbiz_err, f_nfkbiz_pts),
    (1157, 1552.7, 1397.5, 1861.3, 1193.3, 1359.8, (1861.3, 0, 1552.7, 25), [0, 5, 10, 15, 20, 25], f_cxcl9_mean, f_cxcl9_err, f_cxcl9_pts),
    (1462.6, 1552, 1705.6, 1861, 1499.4, 1668, (1861, 0, 1552, 120), [0, 30, 60, 90, 120], f_cxcl10_mean, f_cxcl10_err, f_cxcl10_pts),
    (1761.4, 1552.3, 2000, 1861, 1797.4, 1965.2, (1861, 0, 1571, 80), [0, 20, 40, 60, 80], f_cxcl11_mean, f_cxcl11_err, f_cxcl11_pts),
]
for x0, y0, x1, y1, a, b, yc, yt, m, er, pt in fcfg:
    bars(x0, y0, x1, y1, (a, 0, b, 2), yc, F_SLOTS, [0, 1, 2], yt, m, er, pt, FC, 19.6, 6, 6)

# ---------- overlay with all labels, brackets, legends
tx = dict(x=[], y=[], t=[], fs=[], a=[], st=[], ang=[], c=[])
sg = dict(x0=[], y0=[], x1=[], y1=[], w=[], c=[])
N, B, I, BI = "normal", "bold", "italic", "bold italic"
KB = 0.37  # distance from the renderer's text anchor to the baseline, in em


def T(s, x, y, size, align="left", style=N, angle=0.0, color="black"):
    if angle == 0.0:
        y = y - KB * size
    else:
        x = x - KB * size
    tx["x"].append(x); tx["y"].append(y); tx["t"].append(s); tx["fs"].append(f"{size}px")
    tx["a"].append(align); tx["st"].append(style); tx["ang"].append(angle); tx["c"].append(color)


def TC(s, x, cy, size, align="center", style=B, color="black"):
    T(s, x, cy + .36 * size, size, align, style, 0.0, color)


def S(x0, y0, x1, y1, w=2.5, c="black"):
    sg["x0"].append(x0); sg["y0"].append(y0); sg["x1"].append(x1); sg["y1"].append(y1); sg["w"].append(w); sg["c"].append(c)


def sign(s, x, cy, size):
    T(s, x, cy + (.33 if s == "+" else .27) * size, size, "center", B)


def bracket(x0, x1, ytop, yleg, label, lx, lcy):
    S(x0, ytop, x1, ytop, 2); S(x0, ytop - 1, x0, yleg, 2); S(x1, ytop - 1, x1, yleg, 2)
    if label == "n.s.":
        T(label, lx, lcy + .3 * 19, 19, "center", N)
    else:
        T(label, lx, lcy + .55 * 20, 20, "center", N)

V = np.pi / 2
# -- panel a
T("a", 105, 45.5, 46, "left", B)
T("RAW264.7", 426, 25, 27, "center", B)
S(273, 32, 579, 32, 3)
S(281, 71.6, 420.6, 71.6, 3); S(440, 71.6, 579, 71.6, 3)
T("Tet2", 261.5, 68, 27, "right", BI); T("LPS", 260.5, 104, 27, "right", B); T("OI", 257, 143, 27, "right", B)
T("Group", 263, 179, 27, "right", B)
T("WT", 350.7, 63.7, 28, "center", B); T("KO", 509.4, 63.7, 28, "center", B)
a_x = [301.4, 351.7, 404, 460, 510.8, 563.5]
for s, x in zip(["-", "+", "+", "-", "+", "+"], a_x):
    sign(s, x, 91, 27)
for s, x in zip(["-", "-", "+", "-", "-", "+"], a_x):
    sign(s, x, 134, 27)
for s, x in zip(c_groups, [298.3, 350.3, 402.7, 459.1, 510.1, 562.4]):
    T(s, x, 180.8, 26, "center", B)
T("Down (1,875)", 272.5, 223, 25); T("Up (1,842)", 461, 223, 25)
T("Down (1,888)", 277.4, 596.5, 25); T("Up (1,846)", 457.5, 596.5, 25)
T("-log(adjusted p value)", 202, 344, 25, "center", N, V)
T("-log(adjusted p value)", 202.8, 721, 25, "center", N, V)
for s, c in zip(["0", "100", "200", "300"], [463, 390.8, 320, 251.4]):
    T(s, 233, c, 23, "center", N, V, "#222222")
for s, c in zip(["0", "100", "200", "300"], [836, 764, 691.7, 623]):
    T(s, 234, c, 23, "center", N, V, "#222222")
for s, c in zip(["-10", "-5", "0", "5"], [270.8, 357.9, 448.1, 541.8]):
    T(s, c, 515.5, 24, "center", N, 0.0, "#222222")
for s, c in zip(["-10", "-5", "0", "5"], [260.9, 350.4, 439, 528.5]):
    T(s, c, 887.7, 24, "center", N, 0.0, "#222222")
T("log₂FoldChange", 435, 537, 25, "center"); T("log₂FoldChange", 436, 913.3, 25, "center")
T("Genes regulated by ", 130.6, 514.8, 24.5, "left", B, V); T("Tet2", 130.6, 274, 24, "left", BI, V); T("-KO", 130.6, 225, 24, "left", B, V)
T("(G2 vs. G5)", 164, 348.5, 24, "center", B, V)
T("Genes regulated by OI", 126.5, 718.3, 24, "center", B, V)
T("(G2 vs. G3)", 158, 714.3, 24, "center", B, V)
# -- panel b
T("b", 888, 63.3, 46, "left", B)
T("LPS-induced &", 1203.7, 63.3, 29, "center", B)
T("Inhibited by ", 1066.4, 98.3, 29, "left", B); T("Tet2", 1238, 98.3, 29, "left", BI); T("-KO", 1296, 98.3, 29, "left", B)
T("(G2 vs. G1) vs. (G5 vs. G4), FC ≥ 2", 1203.5, 129.3, 25, "center")
T("LPS-induced &", 980.2, 305, 29, "right", B); T("Inhibited by OI", 980.2, 340, 29, "right", B)
T("(G2 vs. G1, FC ≥ 2)", 982.2, 371.7, 25, "right"); T("(G2 vs. G3, FC ≥ 2)", 982.2, 401.7, 25, "right")
T("1228", 1261.4, 263.3, 28, "center", B); T("509", 1132.5, 341, 28, "center", B); T("203", 1042.3, 388.3, 28, "center", B)
S(1133.7, 409.3, 1133.7, 482, 4)
path_right = [1067.4, 1067.4, 1069, 1066.3, 1068, 1069, 1073, 1076, 1073, 1075]
path_cy = [513.3, 548.3, 586, 627.3, 666, 704, 738.3, 775, 806, 841.7]
for s, x, c in zip(pathways, path_right, path_cy):
    T(s, x, c + 7, 25, "right")
T("-log(p-value)", 1234, 909.7, 25, "center")
T("-log(p-value)", 1360, 593, 25); T("Gene number", 1358, 751.7, 25)
for s, c in zip(["16", "12", "8", "4"], [626, 658.3, 690, 719]):
    TC(s, 1394.6, c, 24, "left", N)
for s, c in zip(["10", "20", "30"], [770, 796.7, 824]):
    TC(s, 1390.6, c, 24, "left", N)
# -- panel c
T("c", 1496.7, 60, 46, "left", B)
for s, b in zip(["Cluster 1", "Cluster 2", "Cluster 3", "Cluster 4", "Cluster 5"], [36, 207.3, 380.7, 548.3, 719]):
    T(s, 1767, b, 28.5, "center", B)
T("Log(normalized RNA Expression)", 1551, 391, 25, "center", B, V)
for (a, b), s, c in zip([(1597.3, 1639.3), (1655, 1697.3), (1712, 1754.3), (1768, 1810.3), (1823.3, 1865.7), (1880, 1922)], c_groups,
                        [1619.3, 1676, 1733.3, 1788.7, 1844, 1901.7]):
    S(a, 852, b, 852, 4); T(s, c, 885.7, 26, "center", B)
# -- panel d
T("d", 157, 1003.3, 46, "left", B)
T("BMDM", 472.9, 990, 26, "center", B); S(334, 1000.3, 628.6, 1000.3, 3)
T("Tet2", 311.5, 1034, 26, "right", BI); T("WT", 410.6, 1034, 27, "center", B); T("KI", 560, 1034, 27, "center", B)
S(334, 1046.7, 493, 1046.7, 3); S(515.3, 1046.7, 623.9, 1046.7, 3)
T("LPS", 310.5, 1082.7, 26, "right", B); T("OI", 310.5, 1130, 26, "right", B)
d_x = [356.8, 413.9, 473.3, 537.5, 597]
for s, x in zip(["-", "+", "+", "-", "+"], d_x):
    sign(s, x, 1068.3, 26)
for s, x in zip(["-", "-", "+", "-", "-"], d_x):
    sign(s, x, 1121.7, 26)
gene_cy = [1168.3, 1207.3, 1244, 1284, 1321.7, 1357.7, 1395, 1432.7, 1470, 1505, 1545, 1584, 1619.3, 1657.3, 1698.3, 1734, 1769.3, 1805, 1841.7, 1880]
for s, c in zip(heat_genes, gene_cy):
    TC(s, 314, c, 25, "right", I)
for s, c in zip(["Cytokine-cytokine", "receptor interaction", "Herpes simplex", "infection", "Transcriptional", "Misregulation", "in cancer", "Toll-like receptor", "signaling", "pathway"],
                [1238, 1268.3, 1425.7, 1456.7, 1599.3, 1629.3, 1660, 1775.7, 1806, 1836.7]):
    T(s, 213.3, c + 7.5, 25, "right")
for a, b in [(1176.7, 1343.3), (1360, 1526.7), (1540.7, 1708.3), (1726.7, 1892.7)]:
    S(222.3, a, 222.3, b, 2.5)
T("FPKM", 651, 1735, 25, "left", B)
for s, c in zip(["2", "1", "0", "-1"], [1771, 1804, 1836.7, 1870]):
    TC(s, 701.7, c, 25, "left", B)
# -- panel e
T("e", 735, 1007.3, 46, "left", B)
T("Relative mRNA expression", 806.7, 1166.7, 25, "center", B, V)
T("ITA", 848.4, 1366.7, 25, "right", B); T("LPS (4 hr)", 849, 1399.3, 25, "right", B)
e_title = [("Nfkbiz", 970.8), ("Cxcl9", 1274.9), ("Cxcl10", 1584.3), ("Cxcl11", 1888.8)]
for s, x in e_title:
    T(s, x, 1007.7, 27, "center", BI)
e_ticklabels = [
    (["80", "60", "40", "20", "0"], [839.4] * 4 + [843], [1022.3, 1096.7, 1174.3, 1251.7, 1330]),
    (["20", "15", "10", "5", "0"], [1135.3] * 4 + [1135.3], [1020, 1096.7, 1174, 1251.7, 1327.7]),
    (["100", "80", "60", "40", "20", "0"], [1446.8] * 5 + [1449], [1023.3, 1084.3, 1141.7, 1204, 1266.7, 1329.3]),
    (["40", "30", "20", "10", "0"], [1746] * 4 + [1751], [1021.7, 1095, 1172.3, 1250, 1328.3]),
]
for labs, rs, cs in e_ticklabels:
    for s, r, c in zip(labs, rs, cs):
        TC(s, r, c, 20, "right", B)
e_ita_x = [[877, 911, 945.5, 1005.5, 1039, 1073.7], [1176, 1210.4, 1245.5, 1303.5, 1337, 1371],
           [1482, 1516, 1551.2, 1607.8, 1641.3, 1675.3], [1783.7, 1817.6, 1853.6, 1909.8, 1943, 1977.8]]
e_lps_x = [[877, 910, 945.5, 1004.3, 1039, 1073.7], [1176, 1209.6, 1245.5, 1302.7, 1337, 1371],
           [1482, 1515.2, 1551.2, 1610.2, 1641.3, 1675.3], [1783.7, 1817.6, 1853.6, 1909, 1943.8, 1977.8]]
for xs_ in e_ita_x:
    for s, x in zip(ita_signs, xs_):
        sign(s, x, 1358, 22)
for xs_ in e_lps_x:
    for s, x in zip(lps_signs, xs_):
        sign(s, x, 1390, 22)
e_groups = [((870, 948), (1001.4, 1079.8), 909.6, 1040.2), ((1170, 1248.4), (1299.4, 1377.4), 1209.6, 1336.8),
            ((1475.1, 1554), (1603.7, 1682.2), 1514.8, 1642.1), ((1777.6, 1856), (1906.2, 1984.6), 1816.8, 1945)]
for (a, b), (c, d), w, k in e_groups:
    S(a, 1411, b, 1411, 4.5); S(c, 1411, d, 1411, 4.5)
    T("WT", w, 1441.7, 24, "center", B)
    T("Tet2", k - 46, 1443.3, 24, "left", BI); T("KO", k + 10, 1443.3, 24, "left", B)
bracket(917.8, 950.8, 1078.7, 1094, "****", 935, 1070)
bracket(1047.6, 1076.5, 1181.7, 1192.7, "n.s.", 1063.9, 1170)
bracket(1211.6, 1255.3, 1071.7, 1086, "****", 1235, 1060.7)
bracket(1337.3, 1371, 1261, 1271.7, "n.s.", 1356, 1250)
bracket(1516.4, 1556.8, 1084, 1101, "****", 1536.6, 1075.3)
bracket(1644.2, 1677.3, 1160.3, 1176, "n.s.", 1664, 1150)
bracket(1816.8, 1846, 1049.7, 1065, "****", 1832.2, 1038.3)
bracket(1941.8, 1973.3, 1121, 1138.3, "n.s.", 1958.8, 1109.3)
# -- panel f
T("f", 738, 1513.3, 46, "left", B)
T("Relative mRNA expression", 805.5, 1711.7, 25, "center", B, V)
T("Time after LPS (hr)", 1268, 1927, 25, "left", B)
for s, x in [("Nfkbiz", 972), ("Cxcl9", 1281), ("Cxcl10", 1583.1), ("Cxcl11", 1894.9)]:
    T(s, x, 1541.7, 27, "center", BI)
f_ticklabels = [
    (["100", "80", "60", "40", "20", "0"], [842.2] * 6, [1555, 1618.3, 1676, 1737.3, 1801.7, 1863.3]),
    (["25", "20", "15", "10", "5", "0"], [1143] * 5 + [1140], [1555, 1615.7, 1674, 1735.7, 1795.7, 1860.7]),
    (["120", "90", "60", "30", "0"], [1439.6, 1442.8, 1442.8, 1442.8, 1442], [1557.3, 1631.7, 1707.3, 1784, 1860.7]),
    (["80", "60", "40", "20", "0"], [1746] * 5, [1571.7, 1643.3, 1716.7, 1789.3, 1853.3]),
]
for labs, rs, cs in f_ticklabels:
    for s, r, c in zip(labs, rs, cs):
        TC(s, r, c, 20, "right", B)
for xs_ in [[892, 972.9, 1059.8], [1191.2, 1276.1, 1357.8], [1494.1, 1576.2, 1659.1], [1797.8, 1878.7, 1967.7]]:
    for s, x in zip(["0", "4", "12"], xs_):
        TC(s, x, 1888.3, 22, "center", B)
f_legend = [(860.2, 1567.7, 881.8, 1577.3, 1600.3, 878.2, 1608.3), (1170.4, 1568.7, 1182.2, 1577.3, 1602.7, 1182.2, 1609.3),
            (1476, 1568.7, 1486.5, 1578.3, 1600, 1487.3, 1609.3), (1774.8, 1565.7, 1785.3, 1576, 1595.7, 1786.5, 1602.7)]
for dx_, dy1, tx1, by1, dy2, tx2, by2 in f_legend:
    T("WT", tx1, by1, 25, "left", B)
    T("Irg1", tx2, by2, 25, "left", BI); T("KO", tx2 + 52.8, by2, 25, "left", B)
bracket(950.8, 990.4, 1635, 1645.7, "****", 971.2, 1627.3)
bracket(1038.6, 1073.7, 1762.7, 1775.7, "****", 1056.5, 1754)
bracket(1259.8, 1294, 1651.7, 1666.7, "***", 1276, 1643)
bracket(1340.2, 1377.3, 1735.7, 1751.7, "**", 1358.2, 1727.3)
bracket(1568.1, 1600.9, 1638.3, 1650, "****", 1584.7, 1626.7)
bracket(1649.8, 1683.4, 1812.7, 1823.3, "n.s.", 1668.4, 1801.7)
bracket(1862.5, 1897.3, 1627.3, 1637.7, "****", 1879.5, 1617.3)
bracket(1951, 1983.4, 1801, 1814, "n.s.", 1968.5, 1790)

ov = figure(width=2004, height=1934, x_range=Range1d(0, 2004), y_range=Range1d(1934, 0), output_backend="svg",
            toolbar_location=None, min_border=0, border_fill_color=None, background_fill_color=None, outline_line_color=None,
            x_axis_location=None, y_axis_location=None,
            styles={"position": "absolute", "left": "0px", "top": "0px"})
ov.grid.visible = False
# venn
ov.ellipse(x=[1197], y=[295.5], width=[314], height=[314.4], fill_color="#FDC9C8", line_color=None)
ov.ellipse(x=[1095], y=[337.5], width=[209], height=[211.6], fill_color="#999BF9", fill_alpha=0.53, line_color=None)
# arrow head
ov.patch([1133.7, 1125.5, 1133.7, 1142], [492.7, 476, 481, 476], color="black")
# -log(p) colour bar
edges = np.linspace(601.7, 727.3, 101)
mids = (edges[:-1] + edges[1:]) / 2
vals = 4 + (721 - mids) / 7.6
ov.quad(left=1360.2, right=1385, top=edges[:-1], bottom=edges[1:] + 0.4, fill_color=lerp_palette(vals, P_STOPS), line_color=None)
for y in [629.7, 660, 690.7, 721]:
    S(1360.2, y, 1366, y, 1.5, "white"); S(1379, y, 1385, y, 1.5, "white")
# gene number legend
ov.quad(left=[1358], right=[1386.6], top=[766], bottom=[838], fill_color="#F0F0F0", line_color=None)
ov.ellipse(x=[1372.8] * 3, y=[771.7, 792.7, 821], width=[10, 20, 24], height=[10, 19, 25], fill_color="black", line_color=None)
# volcano legend dots
ov.ellipse(x=[260, 260.9], y=[211, 585.6], width=17, height=17, fill_color=BLUE, line_color=None)
ov.ellipse(x=[443.6, 440.3], y=[210.7, 585], width=17, height=17, fill_color="#FF5555", line_color=None)
# heat map frame
ov.quad(left=[326.6], right=[637.2], top=[1150.5], bottom=[1894.2], fill_color=None, line_color="black", line_width=5.5)
# FPKM colour bar
edges2 = np.linspace(1761.7, 1886, 101)
m2 = (edges2[:-1] + edges2[1:]) / 2
vals2 = 2 - (m2 - 1769.3) / 33.3
ov.quad(left=661, right=687, top=edges2[:-1], bottom=edges2[1:] + 0.4, fill_color=[heat_color(v) for v in vals2], line_color=None)
ov.quad(left=[659.2], right=[688.8], top=[1760], bottom=[1887.7], fill_color=None, line_color="black", line_width=3.5)
for y in [1769.3, 1803.3, 1836.7, 1869]:
    S(661, y, 667, y, 3); S(681, y, 687, y, 3)
# f legends dots
for dx_, dy1, tx1, by1, dy2, tx2, by2 in f_legend:
    ov.ellipse(x=[dx_], y=[dy1], width=[11], height=[13], fill_color="black", line_color=None)
    ov.ellipse(x=[dx_], y=[dy2], width=[11], height=[13], fill_color=LRED, line_color=None)

ov.segment("x0", "y0", "x1", "y1", line_width="w", line_color="c", source=ColumnDataSource(sg))
ov.text(x="x", y="y", text="t", source=ColumnDataSource(tx), text_font=value(FONT), text_font_size=dict(field="fs"),
        text_align=dict(field="a"), text_baseline="alphabetic", text_font_style=dict(field="st"), angle="ang", text_color="c")
figs.append(ov)

open("out.html", "w").write(file_html(figs, INLINE))
